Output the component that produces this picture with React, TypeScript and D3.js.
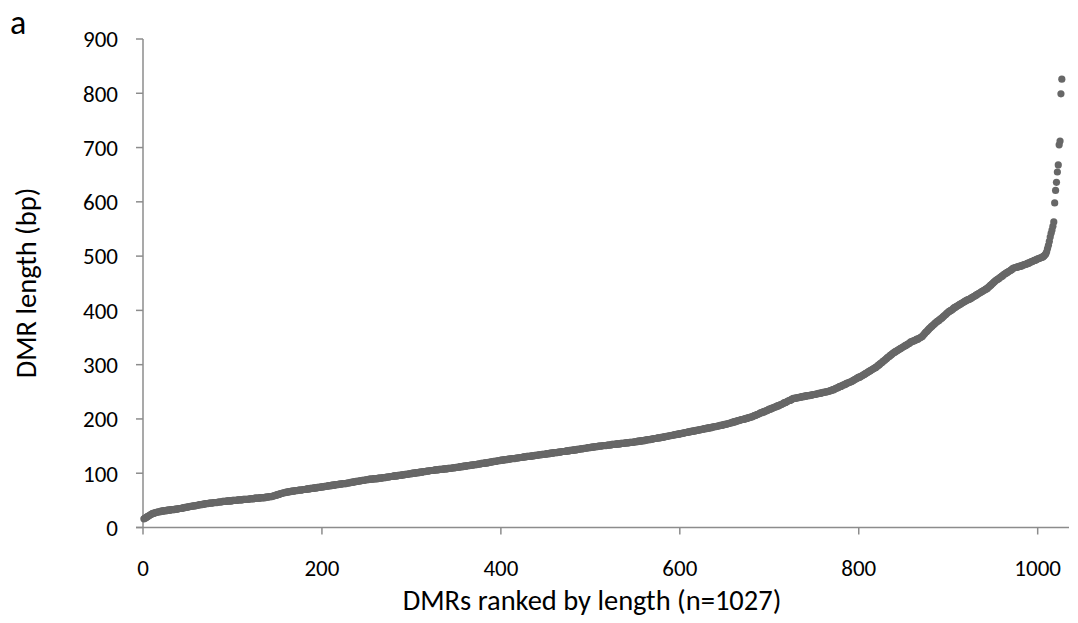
import React from "react";
import * as d3 from "d3";

// DMR lengths (bp), sorted ascending; rank = index + 1
const dmrLengths: number[] = [
  16,
  17, 18, 19, 20, 21, 22, 23, 24, 25, 26,
  26, 27, 27, 28, 28, 29, 29, 29, 30, 30,
  30, 31, 31, 31, 31, 32, 32, 32, 32, 33, 33, 33, 33, 33,
  34, 34, 34, 34, 35, 35, 35, 35, 36, 36, 36, 37, 37, 37, 38, 38,
  38, 39, 39, 39, 40, 40, 40, 40, 41, 41, 41, 42, 42, 42, 42, 43, 43, 43, 44, 44, 44,
  44, 45, 45, 45, 45, 45, 46, 46, 46, 46, 46, 47, 47, 47, 47, 47, 48, 48, 48,
  48, 48, 49, 49, 49, 49, 49, 49, 50, 50, 50, 50, 50, 50, 51, 51, 51, 51,
  51, 51, 52, 52, 52, 52, 52, 52, 52, 53, 53, 53, 53, 53, 53, 54, 54, 54, 54, 54, 54, 55, 55, 55, 55, 55,
  55, 56, 56, 56, 56, 57, 57, 57, 57, 58, 58,
  59, 59, 60, 60, 61, 61, 62, 62, 63, 63, 64, 64,
  64, 65, 65, 65, 66, 66, 66, 67, 67, 67, 67, 68, 68,
  68, 68, 69, 69, 69, 69, 69, 70, 70, 70, 70, 71, 71, 71, 71, 72, 72, 72, 72, 73, 73, 73, 73, 74, 74, 74, 74, 75, 75, 75, 75,
  76, 76, 76, 76, 77, 77, 77, 77, 78, 78, 78, 78, 79, 79, 79, 79, 80, 80, 80, 80, 81, 81, 81, 81, 81, 82, 82, 82, 82,
  83, 83, 83, 84, 84, 84, 85, 85, 85, 85, 86, 86, 86, 87, 87, 87, 87, 88, 88, 88, 88, 89, 89, 89,
  89, 89, 90, 90, 90, 90, 90, 91, 91, 91, 91, 91, 92, 92, 92, 92, 93, 93, 93, 93, 94, 94, 94, 94, 95, 95, 95, 95, 95, 96, 96, 96, 96, 97, 97, 97,
  97, 98, 98, 98, 98, 99, 99, 99, 99, 100, 100, 100, 100, 101, 101, 101, 101, 102, 102, 102, 102, 103, 103, 103, 103, 104, 104,
  104, 104, 105, 105, 105, 105, 105, 106, 106, 106, 106, 106, 107, 107, 107, 107, 107, 108, 108, 108, 108, 108, 109, 109, 109, 109, 109, 110, 110, 110, 110, 111, 111,
  111, 111, 112, 112, 112, 112, 113, 113, 113, 113, 114, 114, 114, 114, 115, 115, 115, 115, 116, 116, 116, 116, 117, 117, 117, 117, 118, 118, 118, 118, 119, 119, 119, 119, 120, 120, 120, 121, 121, 121, 122,
  122, 122, 122, 123, 123, 123, 123, 124, 124, 124, 124, 125, 125, 125, 125, 126, 126, 126, 126, 127, 127, 127, 127, 127, 128, 128, 128, 128, 129, 129, 129, 129, 130, 130, 130, 130, 131, 131, 131,
  131, 131, 132, 132, 132, 132, 133, 133, 133, 133, 134, 134, 134, 134, 135, 135, 135, 135, 135, 136, 136, 136, 136, 137, 137, 137, 137, 138, 138, 138, 138, 138, 139, 139, 139, 139, 140, 140, 140, 140,
  140, 141, 141, 141, 141, 142, 142, 142, 142, 143, 143, 143, 143, 144, 144, 144, 144, 145, 145, 145, 145, 146, 146, 146, 146, 147, 147, 147, 147, 148, 148, 148, 148, 149, 149, 149, 149, 150, 150, 150,
  150, 150, 151, 151, 151, 151, 151, 152, 152, 152, 152, 152, 153, 153, 153, 153, 153, 154, 154, 154, 154, 154, 155, 155, 155, 155, 155, 156, 156, 156, 156, 156, 157, 157, 157, 157, 157, 158, 158, 158,
  158, 159, 159, 159, 159, 160, 160, 160, 160, 161, 161, 161, 162, 162, 162, 162, 163, 163, 163, 164, 164, 164, 164, 165, 165, 165, 165, 166, 166, 166,
  167, 167, 167, 168, 168, 168, 169, 169, 169, 170, 170, 170, 171, 171, 171, 172, 172, 172, 173, 173, 173, 174, 174, 174, 175, 175, 175, 176, 176, 176,
  177, 177, 177, 178, 178, 178, 179, 179, 179, 180, 180, 180, 181, 181, 181, 182, 182, 182, 183, 183, 183, 184, 184, 184, 185, 185, 185, 186, 186, 186, 187, 187, 187, 188, 188, 188, 189, 189, 190, 190,
  190, 191, 191, 192, 192, 193, 193, 194, 194, 195, 195, 196, 196, 197, 197, 198, 198, 199, 199, 199, 200, 200, 201, 201, 202, 202, 203, 203, 204, 204,
  205, 206, 206, 207, 208, 208, 209, 210, 211, 211, 212, 213, 213, 214, 215, 215, 216, 217, 218, 218, 219, 220, 220, 221, 222, 222, 223, 224, 224, 225, 226, 226,
  227, 228, 229, 230, 230, 231, 232, 233, 234, 234, 235, 236, 237, 238,
  238, 238, 239, 239, 239, 240, 240, 240, 241, 241, 241, 242, 242, 242, 243, 243, 243, 243, 244, 244, 244, 245, 245, 245,
  246, 246, 246, 247, 247, 247, 248, 248, 249, 249, 249, 250, 250, 250, 251, 251, 252, 252,
  253, 254, 254, 255, 256, 257, 257, 258, 259, 260, 260, 261, 262, 263, 263, 264, 265, 266, 266, 267, 268, 268,
  269, 270, 271, 272, 273, 274, 275, 276, 277, 277, 278,
  279, 280, 281, 282, 283, 284, 285, 286, 287, 288, 289, 290, 291, 292, 293, 294, 295, 296, 298,
  299, 300, 302, 303, 304, 306, 307, 308, 310, 311, 313, 314, 315, 317, 318, 319, 321, 322,
  323, 324, 325, 326, 327, 328, 329, 330, 331, 332, 333, 334, 335, 336, 337, 338, 339, 340, 342,
  342, 343, 344, 344, 345, 346, 347, 347, 348, 349, 350,
  351, 352, 354, 356, 358, 360, 361, 363, 365, 367, 368, 370,
  371, 373, 374, 376, 377, 379, 380, 381, 382, 384, 385,
  386, 388, 389, 391, 392, 394, 395, 397, 398, 399, 400, 401, 402, 404,
  405, 406, 407, 408, 409, 410, 411, 412, 413, 414, 415, 416, 417, 418, 419, 420, 420, 421, 422,
  423, 424, 425, 426, 427, 428, 429, 430, 431, 432, 433, 434, 435, 436, 437, 438, 439, 440,
  441, 443, 444, 446, 447, 449, 450, 452, 453, 455, 456, 457, 458, 459, 461, 462,
  463, 464, 466, 467, 468, 469, 470, 471, 472, 473, 474, 475, 477, 478,
  478, 479, 479, 480, 480, 481, 481, 482, 482, 483, 484, 484, 485, 485, 486, 487, 487, 488, 489,
  490, 490, 491, 492, 492, 493, 494, 495, 495, 496, 497, 497, 498, 499, 500,
  502, 504, 508, 514, 520, 527, 535, 542, 548, 555, 563, 598, 621, 636, 655, 668, 705, 712, 799, 826,
];

const xTicks: number[] = [0, 200, 400, 600, 800, 1000];
const yTicks: number[] = [0, 100, 200, 300, 400, 500, 600, 700, 800, 900];

const xTitle = "DMRs ranked by length (n=1027)";
const yTitle = "DMR length (bp)";
const panelLabel = "a";

const W = 1078;
const H = 623;
const FONT = "Carlito, Calibri, Lato, 'Open Sans', sans-serif";
const AXIS = "#8c8c8c";
const DOT = "#676767";

export default function App() {
  const x = d3.scaleLinear().domain([0, 1035]).range([143, 1069]);
  const y = d3.scaleLinear().domain([0, 900]).range([527.5, 39]);

  return (
    <svg
      width={W}
      height={H}
      style={{ position: "absolute", left: 0, top: 0, background: "#fff" }}
      fontFamily={FONT}
    >
      <text x={10} y={34} fontSize={34} fill="#000">
        {panelLabel}
      </text>

      {/* y axis */}
      <line x1={x(0)} x2={x(0)} y1={y(900)} y2={y(0)} stroke={AXIS} strokeWidth={1.5} />
      {yTicks.map((t) => (
        <g key={"y" + t}>
          <line x1={x(0) - 7} x2={x(0)} y1={y(t)} y2={y(t)} stroke={AXIS} strokeWidth={1.5} />
          <text
            x={118}
            y={y(t)}
            dy="0.36em"
            textAnchor="end"
            fontSize={23}
            fill="#000"
          >
            {t}
          </text>
        </g>
      ))}

      {/* x axis */}
      <line x1={x(0) - 7} x2={x(1035)} y1={y(0)} y2={y(0)} stroke={AXIS} strokeWidth={1.5} />
      {xTicks.map((t) => (
        <g key={"x" + t}>
          <line x1={x(t)} x2={x(t)} y1={y(0)} y2={y(0) + 7} stroke={AXIS} strokeWidth={1.5} />
          <text x={x(t)} y={576} textAnchor="middle" fontSize={23} fill="#000">
            {t}
          </text>
        </g>
      ))}

      {/* points */}
      <g fill={DOT}>
        {dmrLengths.map((v, i) => (
          <circle key={i} cx={x(i + 1)} cy={y(v)} r={3.6} />
        ))}
      </g>

      <text x={592} y={610} textAnchor="middle" fontSize={28.5} fill="#000">
        {xTitle}
      </text>
      <text
        transform={`translate(36,283) rotate(-90)`}
        textAnchor="middle"
        fontSize={28.5}
        fill="#000"
      >
        {yTitle}
      </text>
    </svg>
  );
}
